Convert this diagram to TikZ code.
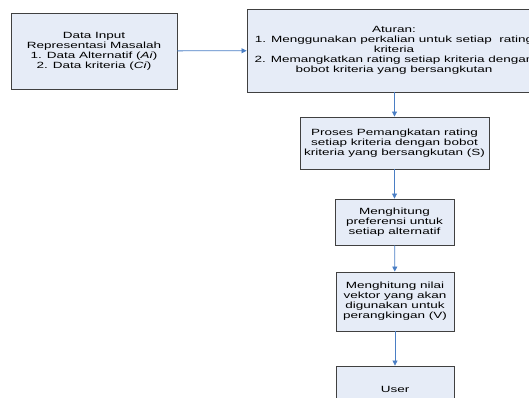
\documentclass[tikz,border=0pt]{standalone}
\usepackage{fontspec}
\setmainfont{Liberation Sans}[FakeStretch=1.5]
\usepackage{tikz}
\usetikzlibrary{arrows.meta}
\usetikzlibrary{scopes}
\usetikzlibrary{shadows}
\definecolor{boxfill}{HTML}{E6ECF7}
\definecolor{boxline}{HTML}{404040}
\definecolor{arrowblue}{HTML}{4A7EC4}
\tikzset{flowbox/.style={draw=boxline, fill=boxfill, line width=0.9pt, align=center,
    inner sep=0pt, font=\fontsize{9}{10}\selectfont,
    execute at begin node={\rule{0pt}{17pt}},
    drop shadow={shadow xshift=1pt, shadow yshift=-1pt, fill=black!45}}}

\begin{document}
\begin{tikzpicture}
      [
      x=1pt, y=-1pt,
      link/.style={-{Triangle[length=5pt,width=5pt]},draw=arrowblue,line width=0.8pt},
      ]
      \useasboundingbox (0,0) rectangle (529,398);
      \clip (0,0) rectangle (529,398);
      % input and rules
      \node[flowbox, minimum width=166pt, minimum height=76pt] (input) at (94,51)
        {Data Input\\Representasi Masalah\\1. Data Alternatif (\textit{Ai})\\2. Data kriteria (\textit{Ci})};
      \node[flowbox, minimum width=294pt, minimum height=83pt] (aturan) at (394,50.5)
        {Aturan:\\1. Menggunakan perkalian untuk setiap\ \ rating\\kriteria\\
         2. Memangkatkan rating setiap kriteria dengan\\bobot kriteria yang bersangkutan};
      % process chain
      \node[flowbox, minimum width=189pt, minimum height=52pt] (proses) at (394.5,143)
        {Proses Pemangkatan rating\\setiap kriteria dengan bobot\\kriteria yang bersangkutan (S)};
      \node[flowbox, minimum width=119pt, minimum height=46pt] (preferensi) at (394.5,222)
        {Menghitung\\preferensi untuk\\setiap alternatif};
      \node[flowbox, minimum width=118pt, minimum height=59pt] (vektor) at (395,301.5)
        {Menghitung nilai\\vektor yang akan\\digunakan untuk\\perangkingan (V)};
      \node[flowbox, minimum width=118pt, minimum height=36pt,
        execute at begin node={}] (user) at (395,384) {User};
      {[link]
        \draw (input) -- (aturan);
        \draw (aturan.south -| proses.north) -- (proses);
        \draw (proses) -- (preferensi);
        \draw (preferensi) -- (vektor);
        \draw (vektor) -- (user);
      }
    \end{tikzpicture}
\end{document}
